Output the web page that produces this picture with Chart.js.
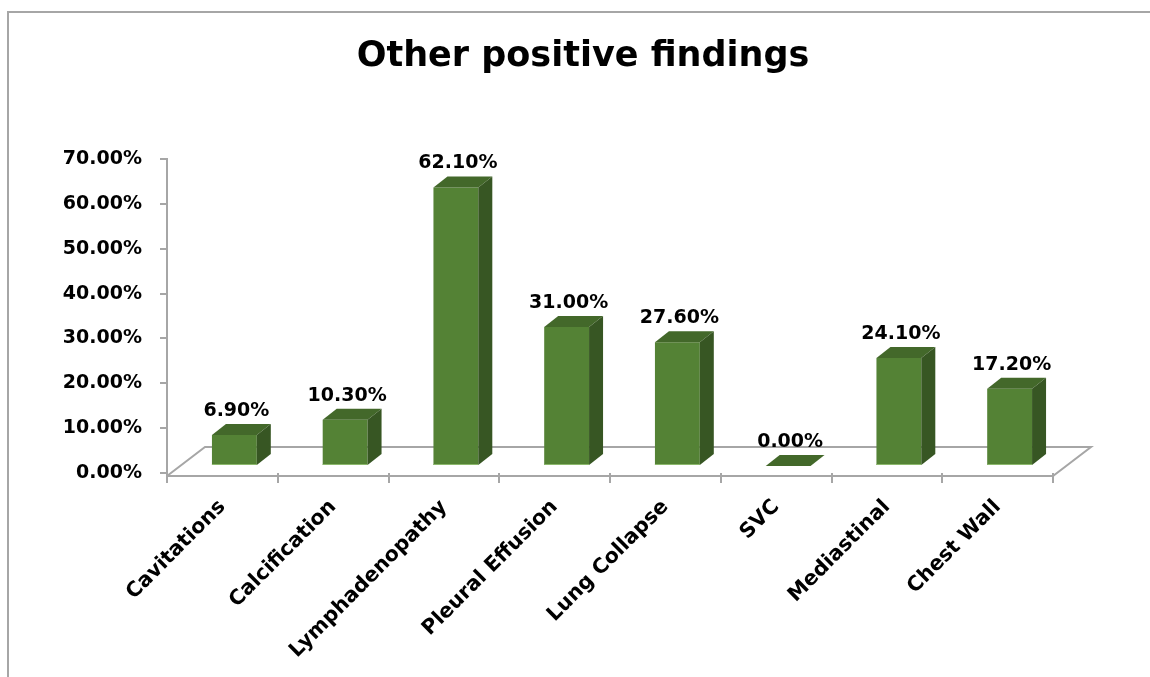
<!DOCTYPE html>
<html>
<head>
<meta charset="utf-8">
<script src="https://cdn.jsdelivr.net/npm/chart.js@4"></script>
<style>
    html, body { margin: 0; padding: 0; background: #fff; }
    #wrap { position: relative; width: 1150px; height: 677px; overflow: hidden; }
    #frame { position: absolute; left: 7px; top: 11px; width: 1200px; height: 700px;
             border-left: 2px solid #a6a6a6; border-top: 2px solid #a6a6a6; }
    canvas { position: absolute; left: 0; top: 0; }
</style>
</head>
<body>
<div id="wrap">
    <div id="frame"></div>
    <canvas id="chart" width="1150" height="677"></canvas>
</div>
<script>
const categories = ['Cavitations', 'Calcification', 'Lymphadenopathy', 'Pleural Effusion',
    'Lung Collapse', 'SVC', 'Mediastinal', 'Chest Wall'];
const percentages = [6.9, 10.3, 62.1, 31.0, 27.6, 0.0, 24.1, 17.2];
const yTicks = [0, 10, 20, 30, 40, 50, 60, 70];

const FONT = '"DejaVu Sans", sans-serif';
const AXIS_GREY = '#a6a6a6';
const FRONT = '#548235';
const TOP = '#43682a';
const SIDE = '#375623';

// 3d look: bars stand a little back on the floor, with a top and a side face
const SHIFT_X = 12, SHIFT_Y = 7;
const DEPTH_X = 14, DEPTH_Y = 11;
const FLOOR_X = 38, FLOOR_Y = 29;

const bar3d = {
    id: 'bar3d',
    beforeDatasetsDraw: function (chart) {
        const ctx = chart.ctx;
        const a = chart.chartArea;
        const fy = a.bottom + 3;
        ctx.save();
        ctx.strokeStyle = AXIS_GREY;
        ctx.lineWidth = 2;
        ctx.beginPath();
        ctx.moveTo(a.left, fy);
        ctx.lineTo(a.left + FLOOR_X, fy - FLOOR_Y);
        ctx.lineTo(a.right + FLOOR_X, fy - FLOOR_Y);
        ctx.lineTo(a.right, fy);
        ctx.lineTo(a.left, fy);
        ctx.stroke();
        ctx.restore();
        ctx.save();
        ctx.translate(SHIFT_X, -SHIFT_Y);
    },
    afterDatasetsDraw: function (chart) {
        const ctx = chart.ctx;
        const bars = chart.getDatasetMeta(0).data;
        bars.forEach(function (bar) {
            const l = bar.x - bar.width / 2;
            const r = bar.x + bar.width / 2;
            // top face
            ctx.fillStyle = TOP;
            ctx.beginPath();
            ctx.moveTo(l, bar.y);
            ctx.lineTo(l + DEPTH_X, bar.y - DEPTH_Y);
            ctx.lineTo(r + DEPTH_X, bar.y - DEPTH_Y);
            ctx.lineTo(r, bar.y);
            ctx.closePath();
            ctx.fill();
            // side face
            if (bar.base - bar.y > 0.5) {
                ctx.fillStyle = SIDE;
                ctx.beginPath();
                ctx.moveTo(r, bar.y);
                ctx.lineTo(r + DEPTH_X, bar.y - DEPTH_Y);
                ctx.lineTo(r + DEPTH_X, bar.base - DEPTH_Y);
                ctx.lineTo(r, bar.base);
                ctx.closePath();
                ctx.fill();
                ctx.strokeStyle = '#8cb86c';
                ctx.lineWidth = 1;
                ctx.beginPath();
                ctx.moveTo(l, bar.base - 0.5);
                ctx.lineTo(r, bar.base - 0.5);
                ctx.stroke();
            }
        });
        ctx.restore();
        // value labels
        ctx.save();
        ctx.fillStyle = '#000';
        ctx.font = 'bold 19px ' + FONT;
        ctx.textAlign = 'center';
        ctx.textBaseline = 'alphabetic';
        bars.forEach(function (bar, i) {
            ctx.fillText(percentages[i].toFixed(2) + '%', bar.x + SHIFT_X + 2, bar.y - SHIFT_Y - DEPTH_Y - 8);
        });
        ctx.restore();
    }
};

new Chart(document.getElementById('chart'), {
    type: 'bar',
    data: {
        labels: categories,
        datasets: [{
            data: percentages,
            backgroundColor: FRONT,
            borderWidth: 0,
            categoryPercentage: 1,
            barPercentage: 0.405,
            clip: false
        }]
    },
    options: {
        responsive: false,
        animation: false,
        layout: { padding: { left: 16, right: 0, top: 0, bottom: 0 } },
        plugins: {
            legend: { display: false },
            tooltip: { enabled: false },
            title: {
                display: true,
                text: 'Other positive findings',
                color: '#000',
                font: { family: FONT, size: 35, weight: 'bold' },
                padding: { top: 36, bottom: 81 }
            }
        },
        scales: {
            x: {
                grid: { drawOnChartArea: false, tickLength: 10, color: AXIS_GREY, lineWidth: 2 },
                border: { display: false },
                ticks: {
                    color: '#000',
                    padding: 12,
                    font: { family: FONT, size: 20.5, weight: 'bold' },
                    maxRotation: 45,
                    minRotation: 45,
                    autoSkip: false
                },
                afterFit: function (scale) { scale.height = 204; }
            },
            y: {
                min: 0,
                max: 70,
                afterBuildTicks: function (scale) {
                    scale.ticks = yTicks.map(function (v) { return { value: v }; });
                },
                ticks: {
                    color: '#000',
                    padding: 18,
                    font: { family: FONT, size: 19, weight: 'bold' },
                    callback: function (v) { return v.toFixed(2) + '%'; }
                },
                grid: { drawOnChartArea: false, tickLength: 7, color: AXIS_GREY, lineWidth: 2 },
                border: { color: AXIS_GREY, width: 2 },
                afterFit: function (scale) { scale.width = 151; }
            },
            // empty box on the right so the plot ends where the original does
            spacer: {
                type: 'linear',
                position: 'right',
                grid: { display: false },
                border: { display: false },
                ticks: { display: false },
                afterFit: function (scale) { scale.width = 97; }
            }
        }
    },
    plugins: [bar3d]
});
</script>
</body>
</html>
